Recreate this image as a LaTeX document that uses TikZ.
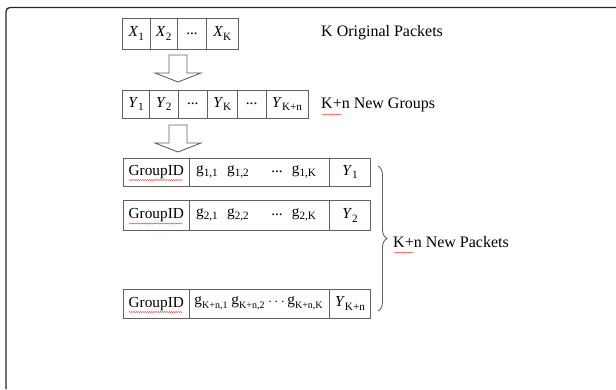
\documentclass[tikz,border=0pt]{standalone}
\usepackage{fontspec}
\setmainfont{Liberation Serif}
\usetikzlibrary{decorations.pathreplacing,decorations.pathmorphing}
\definecolor{boxgray}{gray}{0.38}
\definecolor{framegray}{gray}{0.15}
\newcommand{\mainsz}{\fontsize{15.3}{18}\selectfont}
\newcommand{\lblsz}{\fontsize{16}{19}\selectfont}
\newcommand{\sbs}[1]{\raisebox{-0.22em}{\fontsize{11.2}{13}\selectfont #1}}
\newcommand{\sbss}[1]{\raisebox{-0.22em}{\fontsize{10}{12}\selectfont #1}}
\newcommand{\cellat}[6]{\node[cell, minimum width={#4pt-#3pt}, minimum height={#6pt-#5pt}] (#1) at ({(#3+#4)/2},{(#5+#6)/2}) {#2};}
\begin{document}
\begin{tikzpicture}[x=1pt,y=-1pt,
  every node/.style={inner sep=0pt, font=\mainsz},
  cell/.style={draw=boxgray, line width=0.9pt, inner sep=0pt, outer sep=0pt},
  hollowarrow/.style={draw=boxgray, line width=0.9pt, fill=white, line join=miter},
  lbl/.style={anchor=west, font=\lblsz},
  spell/.style={draw=red!75, line width=0.45pt, decorate, decoration={snake, segment length=2.2pt, amplitude=0.55pt}},
  bracestyle/.style={draw=boxgray, line width=0.9pt, decorate, decoration={brace, amplitude=9pt}}]
\useasboundingbox (0,0) rectangle (616,389);
% frame
\draw[framegray, line width=1.3pt, rounded corners=4pt] (616,7.5) -- (6,7.5) -- (6,389);
% X row
\cellat{x1}{\textit{X}\sbs{1}}{122.7}{150}{18.3}{49}
\cellat{x2}{\textit{X}\sbs{2}}{150}{177.3}{18.3}{49}
\cellat{x3}{...}{177.3}{206.7}{18.3}{49}
\cellat{x4}{\textit{X}\sbs{K}}{206.7}{238}{18.3}{49}
\node[lbl] (lx) at (321,32.5) {K Original Packets};
% arrow 1
\draw[hollowarrow] (169,55) -- (187,55) -- (187,73) -- (201,73) -- (178,82) -- (155,73) -- (169,73) -- cycle;
% Y row
\cellat{y1}{\textit{Y}\sbs{1}}{122.7}{149.3}{90}{118.3}
\cellat{y2}{\textit{Y}\sbs{2}}{149.3}{178.3}{90}{118.3}
\cellat{y3}{...}{178.3}{207.3}{90}{118.3}
\cellat{y4}{\textit{Y}\sbs{K}}{207.3}{237.3}{90}{118.3}
\cellat{y5}{...}{237.3}{266}{90}{118.3}
\cellat{y6}{\textit{Y}\sbs{K+n}}{266}{308.3}{90}{118.3}
\node[lbl] (ly) at (321,104.5) {K+n New Groups};
\draw[spell] (322,114.5) -- (341,114.5);
% arrow 2
\draw[hollowarrow] (169,125) -- (187,125) -- (187,143) -- (201,143) -- (178,152) -- (155,143) -- (169,143) -- cycle;
% group rows
\cellat{ga}{GroupID}{123.3}{189.3}{158.3}{186}
\cellat{gb}{}{189.3}{329.3}{158.3}{186}
\cellat{gc}{\textit{Y}\sbs{1}}{329.3}{370.7}{158.3}{186}
\node (ga1) at (207,172) {g\sbs{1,1}};
\node (ga2) at (238,172) {g\sbs{1,2}};
\node (ga3) at (277,172) {...};
\node (ga4) at (304,172) {g\sbs{1,K}};
\draw[spell] (129,180) -- (183,180);
\cellat{gd}{GroupID}{123.3}{189.3}{200.7}{230}
\cellat{ge}{}{189.3}{329.3}{200.7}{230}
\cellat{gf}{\textit{Y}\sbs{2}}{329.3}{370.7}{200.7}{230}
\node (gb1) at (207,215) {g\sbs{2,1}};
\node (gb2) at (238,215) {g\sbs{2,2}};
\node (gb3) at (277,215) {...};
\node (gb4) at (304,215) {g\sbs{2,K}};
\draw[spell] (129,223.5) -- (183,223.5);
\cellat{gg}{GroupID}{123.3}{189.3}{289}{318.3}
\cellat{gh}{}{189.3}{329.3}{289}{318.3}
\cellat{gi}{\textit{Y}\sbs{K+n}}{329.3}{370.7}{289}{318.3}
\node (gc1) at (211,303.5) {g\sbss{K+n,1}};
\node (gc2) at (248,303.5) {g\sbss{K+n,2}};
\node (gc3) at (276.5,302) {$\cdots$};
\node (gc4) at (305,303.5) {g\sbss{K+n,K}};
\draw[spell] (129,312) -- (183,312);
% brace
\coordinate (bt) at (378,166);
\coordinate (bb) at (378,311);
\draw[bracestyle] (bt) -- (bb);
\node[lbl] (lp) at (393,242) {K+n New Packets};
\draw[spell] (394,252.5) -- (413,252.5);
\end{tikzpicture}
\end{document}
